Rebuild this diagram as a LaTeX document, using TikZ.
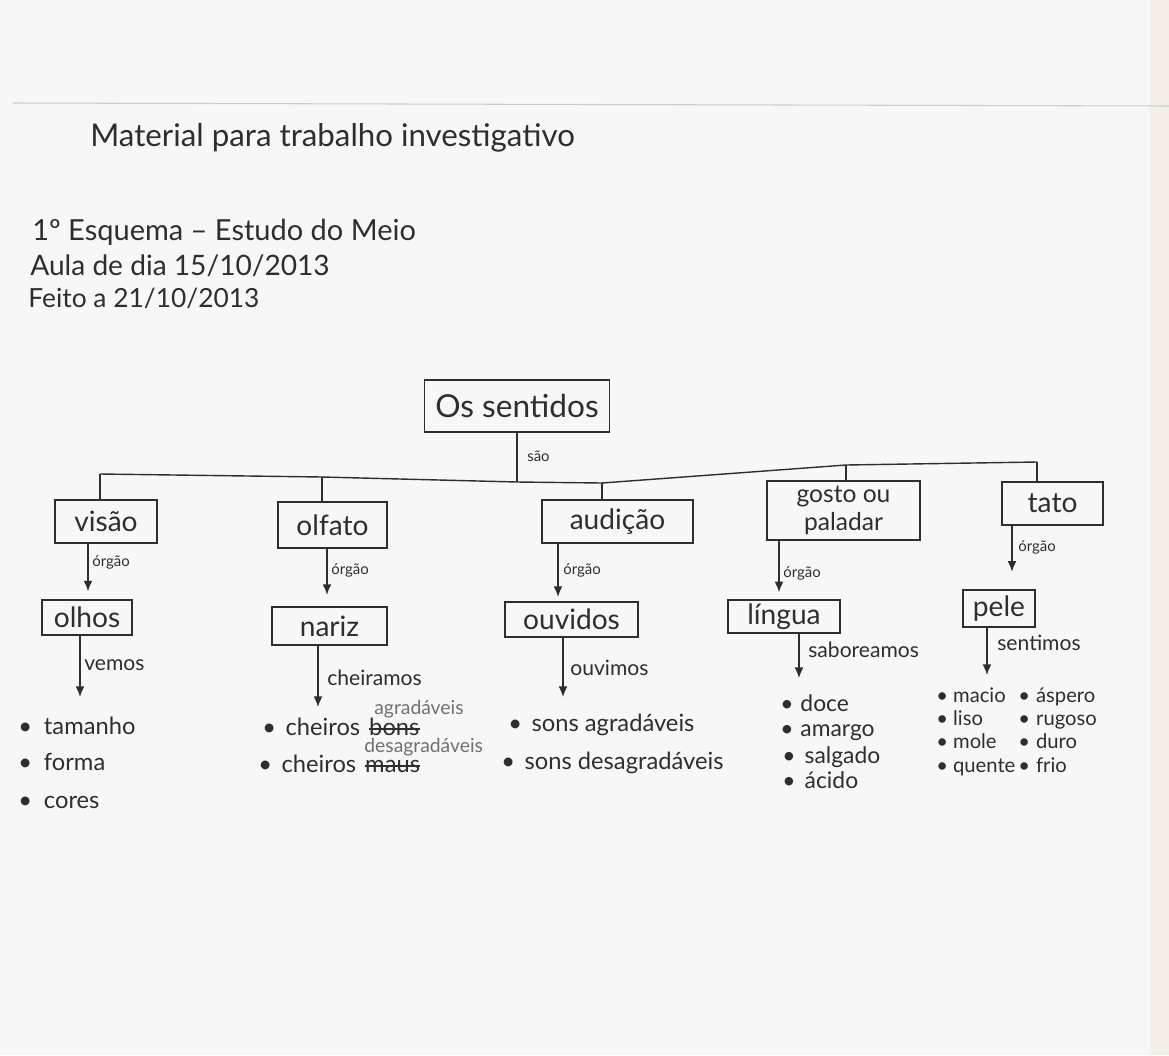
\documentclass[tikz,border=0pt]{standalone}
\usepackage{fontspec}
\setmainfont{Lato}
\usetikzlibrary{arrows.meta,calc}
\definecolor{ink}{HTML}{2E2E2E}
\definecolor{pencil}{HTML}{707070}
\definecolor{paper}{HTML}{F7F7F7}
\definecolor{edge}{HTML}{F3EEE8}
\definecolor{rulegray}{HTML}{CDCDCD}
\newcommand{\fs}[1]{\fontsize{#1}{#1}\selectfont}
\begin{document}
\begin{tikzpicture}[x=0.02cm,y=-0.02cm,
  every node/.style={text=ink, inner sep=0pt},
  title/.style={anchor=base west, font=\fs{16}},
  boxed/.style={draw=ink, line width=0.8pt, align=center, font=\fs{16}},
  rel/.style={anchor=base west, font=\fs{8.5}},
  verb/.style={anchor=base west, font=\fs{12}},
  entry/.style={anchor=base west, font=\fs{13.5}},
  small entry/.style={anchor=base west, font=\fs{13}},
  touch entry/.style={anchor=base west, font=\fs{11.5}},
  fix/.style={anchor=base west, text=pencil, font=\fs{11}},
  link/.style={draw=ink, line width=0.8pt},
  arr/.style={link, -{Latex[length=6pt,width=5pt]}}
]
% sheet
\useasboundingbox (0,0) rectangle (1169,1055);
\fill[paper] (0,0) rectangle (1169,1055);
\fill[edge] (1150,0) rectangle (1169,1055);
\draw[rulegray, line width=0.6pt] (13,103) -- (1169,106);

% heading
\node[title, font=\fs{17.8}] (head) at (90,146) {Material para trabalho investigativo};
\node[title, font=\fs{16.5}] (scheme) at (32,240) {1º Esquema – Estudo do Meio};
\node[title] (lesson) at (30,275) {Aula de dia 15/10/2013};
\node[title, font=\fs{15}] (done) at (28,307) {Feito a 21/10/2013};

% root
\node[boxed, font=\fs{18}, minimum width=3.70cm, minimum height=1.04cm] (root) at (517,406) {Os sentidos};
\node[rel] (sao) at (527,461) {são};

% the five senses
\node[boxed, minimum width=2.04cm, minimum height=0.86cm] (vis) at (106,521.5) {visão};
\node[boxed, minimum width=2.18cm, minimum height=0.92cm] (olf) at (332.5,525) {olfato};
\node[boxed, minimum width=3.02cm, minimum height=0.86cm] (aud) at (617.5,521.5) {audição};
\node[boxed, font=\fontsize{14}{16}\selectfont, minimum width=3.06cm, minimum height=1.18cm] (gos) at (843.5,510.5) {gosto ou\\paladar};
\node[boxed, minimum width=2.02cm, minimum height=0.86cm] (tat) at (1052.5,503.5) {tato};

% junctions of the bar
\coordinate (j1) at (100,474);
\coordinate (j2) at (322,477);
\coordinate (j3) at (517,482);
\coordinate (j4) at (602,483);
\coordinate (j5) at (846,465);
\coordinate (j6) at (1037,462);
\draw[link] (root.south) -- (j3);
\draw[link] (j1) -- (j2) -- (j3) -- (j4) -- (j5) -- (j6);
\draw[link] (j1) -- (j1 |- vis.north);
\draw[link] (j2) -- (j2 |- olf.north);
\draw[link] (j4) -- (j4 |- aud.north);
\draw[link] (j5) -- (j5 |- gos.north);
\draw[link] (j6) -- (j6 |- tat.north);

% organs
\node[boxed, minimum width=1.80cm, minimum height=0.70cm] (eyes) at (87,617.5) {olhos};
\node[boxed, minimum width=2.30cm, minimum height=0.76cm] (nose) at (329.5,626) {nariz};
\node[boxed, minimum width=2.66cm, minimum height=0.70cm] (ears) at (571.5,619.5) {ouvidos};
\node[boxed, minimum width=2.24cm, minimum height=0.66cm] (tongue) at (784,616.5) {língua};
\node[boxed, minimum width=1.44cm, minimum height=0.74cm] (skin) at (999,608.5) {pele};

% sense -> organ
\coordinate (a1) at (88,0);
\coordinate (a2) at (327,0);
\coordinate (a3) at (558,0);
\coordinate (a4) at (779,0);
\coordinate (a5) at (1012,0);
\draw[arr, shorten >=4.5pt] (vis.south -| a1) -- (eyes.north -| a1);
\draw[arr, shorten >=6.5pt] (olf.south -| a2) -- (nose.north -| a2);
\draw[arr, shorten >=2.5pt] (aud.south -| a3) -- (ears.north -| a3);
\draw[arr, shorten >=4pt] (gos.south -| a4) -- (tongue.north -| a4);
\draw[arr, shorten >=10pt] (tat.south -| a5) -- (skin.north -| a5);
\node[rel] (r1) at (92,566) {órgão};
\node[rel] (r2) at (331,574) {órgão};
\node[rel] (r3) at (563,574) {órgão};
\node[rel] (r4) at (783,577) {órgão};
\node[rel] (r5) at (1018,551) {órgão};

% organ -> perceptions
\coordinate (t1) at (80,697);
\coordinate (t2) at (318,707);
\coordinate (t3) at (563,697);
\coordinate (t4) at (799,678);
\coordinate (t5) at (987,675);
\draw[arr] (eyes.south -| t1) -- (t1);
\draw[arr] (nose.south -| t2) -- (t2);
\draw[arr] (ears.south -| t3) -- (t3);
\draw[arr] (tongue.south -| t4) -- (t4);
\draw[arr] (skin.south -| t5) -- (t5);
\node[verb] (v1) at (84,670) {vemos};
\node[verb] (v2) at (327,685) {cheiramos};
\node[verb] (v3) at (570,675) {ouvimos};
\node[verb] (v4) at (808,657) {saboreamos};
\node[verb] (v5) at (997,650) {sentimos};

% sight
\node[entry] (e11) at (18,734) {•\hspace{0.5em}tamanho};
\node[entry] (e12) at (18,770) {•\hspace{0.5em}forma};
\node[entry] (e13) at (18,808) {•\hspace{0.5em}cores};

% smell, with the pencil corrections written above
\node[entry] (e21) at (262,735) {•\hspace{0.4em}cheiros};
\node[entry] (old1) at (e21.base east) {\hspace{0.35em}bons};
\node[fix] (new1) at (374,714) {agradáveis};
\draw[link, line width=0.7pt] ($(old1.base west)+(8,-6)$) -- ($(old1.base east)+(0,-6)$);
\node[entry] (e22) at (258,772) {•\hspace{0.4em}cheiros};
\node[entry] (old2) at (e22.base east) {\hspace{0.35em}maus};
\node[fix] (new2) at (364,752) {desagradáveis};
\draw[link, line width=0.7pt] ($(old2.base west)+(8,-6)$) -- ($(old2.base east)+(0,-6)$);

% hearing
\node[entry] (e31) at (508,731) {•\hspace{0.4em}sons agradáveis};
\node[entry] (e32) at (501,769) {•\hspace{0.4em}sons desagradáveis};

% taste
\node[small entry] (e41) at (780,711) {•\hspace{0.3em}doce};
\node[small entry] (e42) at (780,736) {•\hspace{0.3em}amargo};
\node[small entry] (e43) at (782,763) {•\hspace{0.4em}salgado};
\node[small entry] (e44) at (782,788) {•\hspace{0.4em}ácido};

% touch
\node[touch entry] (e51) at (936,702) {•\hspace{0.25em}macio};
\node[touch entry] (e52) at (1018,702) {•\hspace{0.3em}áspero};
\node[touch entry] (e53) at (936,725) {•\hspace{0.25em}liso};
\node[touch entry] (e54) at (1018,725) {•\hspace{0.3em}rugoso};
\node[touch entry] (e55) at (936,748) {•\hspace{0.25em}mole};
\node[touch entry] (e56) at (1018,748) {•\hspace{0.3em}duro};
\node[touch entry] (e57) at (936,772) {•\hspace{0.25em}quente};
\node[touch entry] (e58) at (1018,772) {•\hspace{0.3em}frio};
\end{tikzpicture}
\end{document}
